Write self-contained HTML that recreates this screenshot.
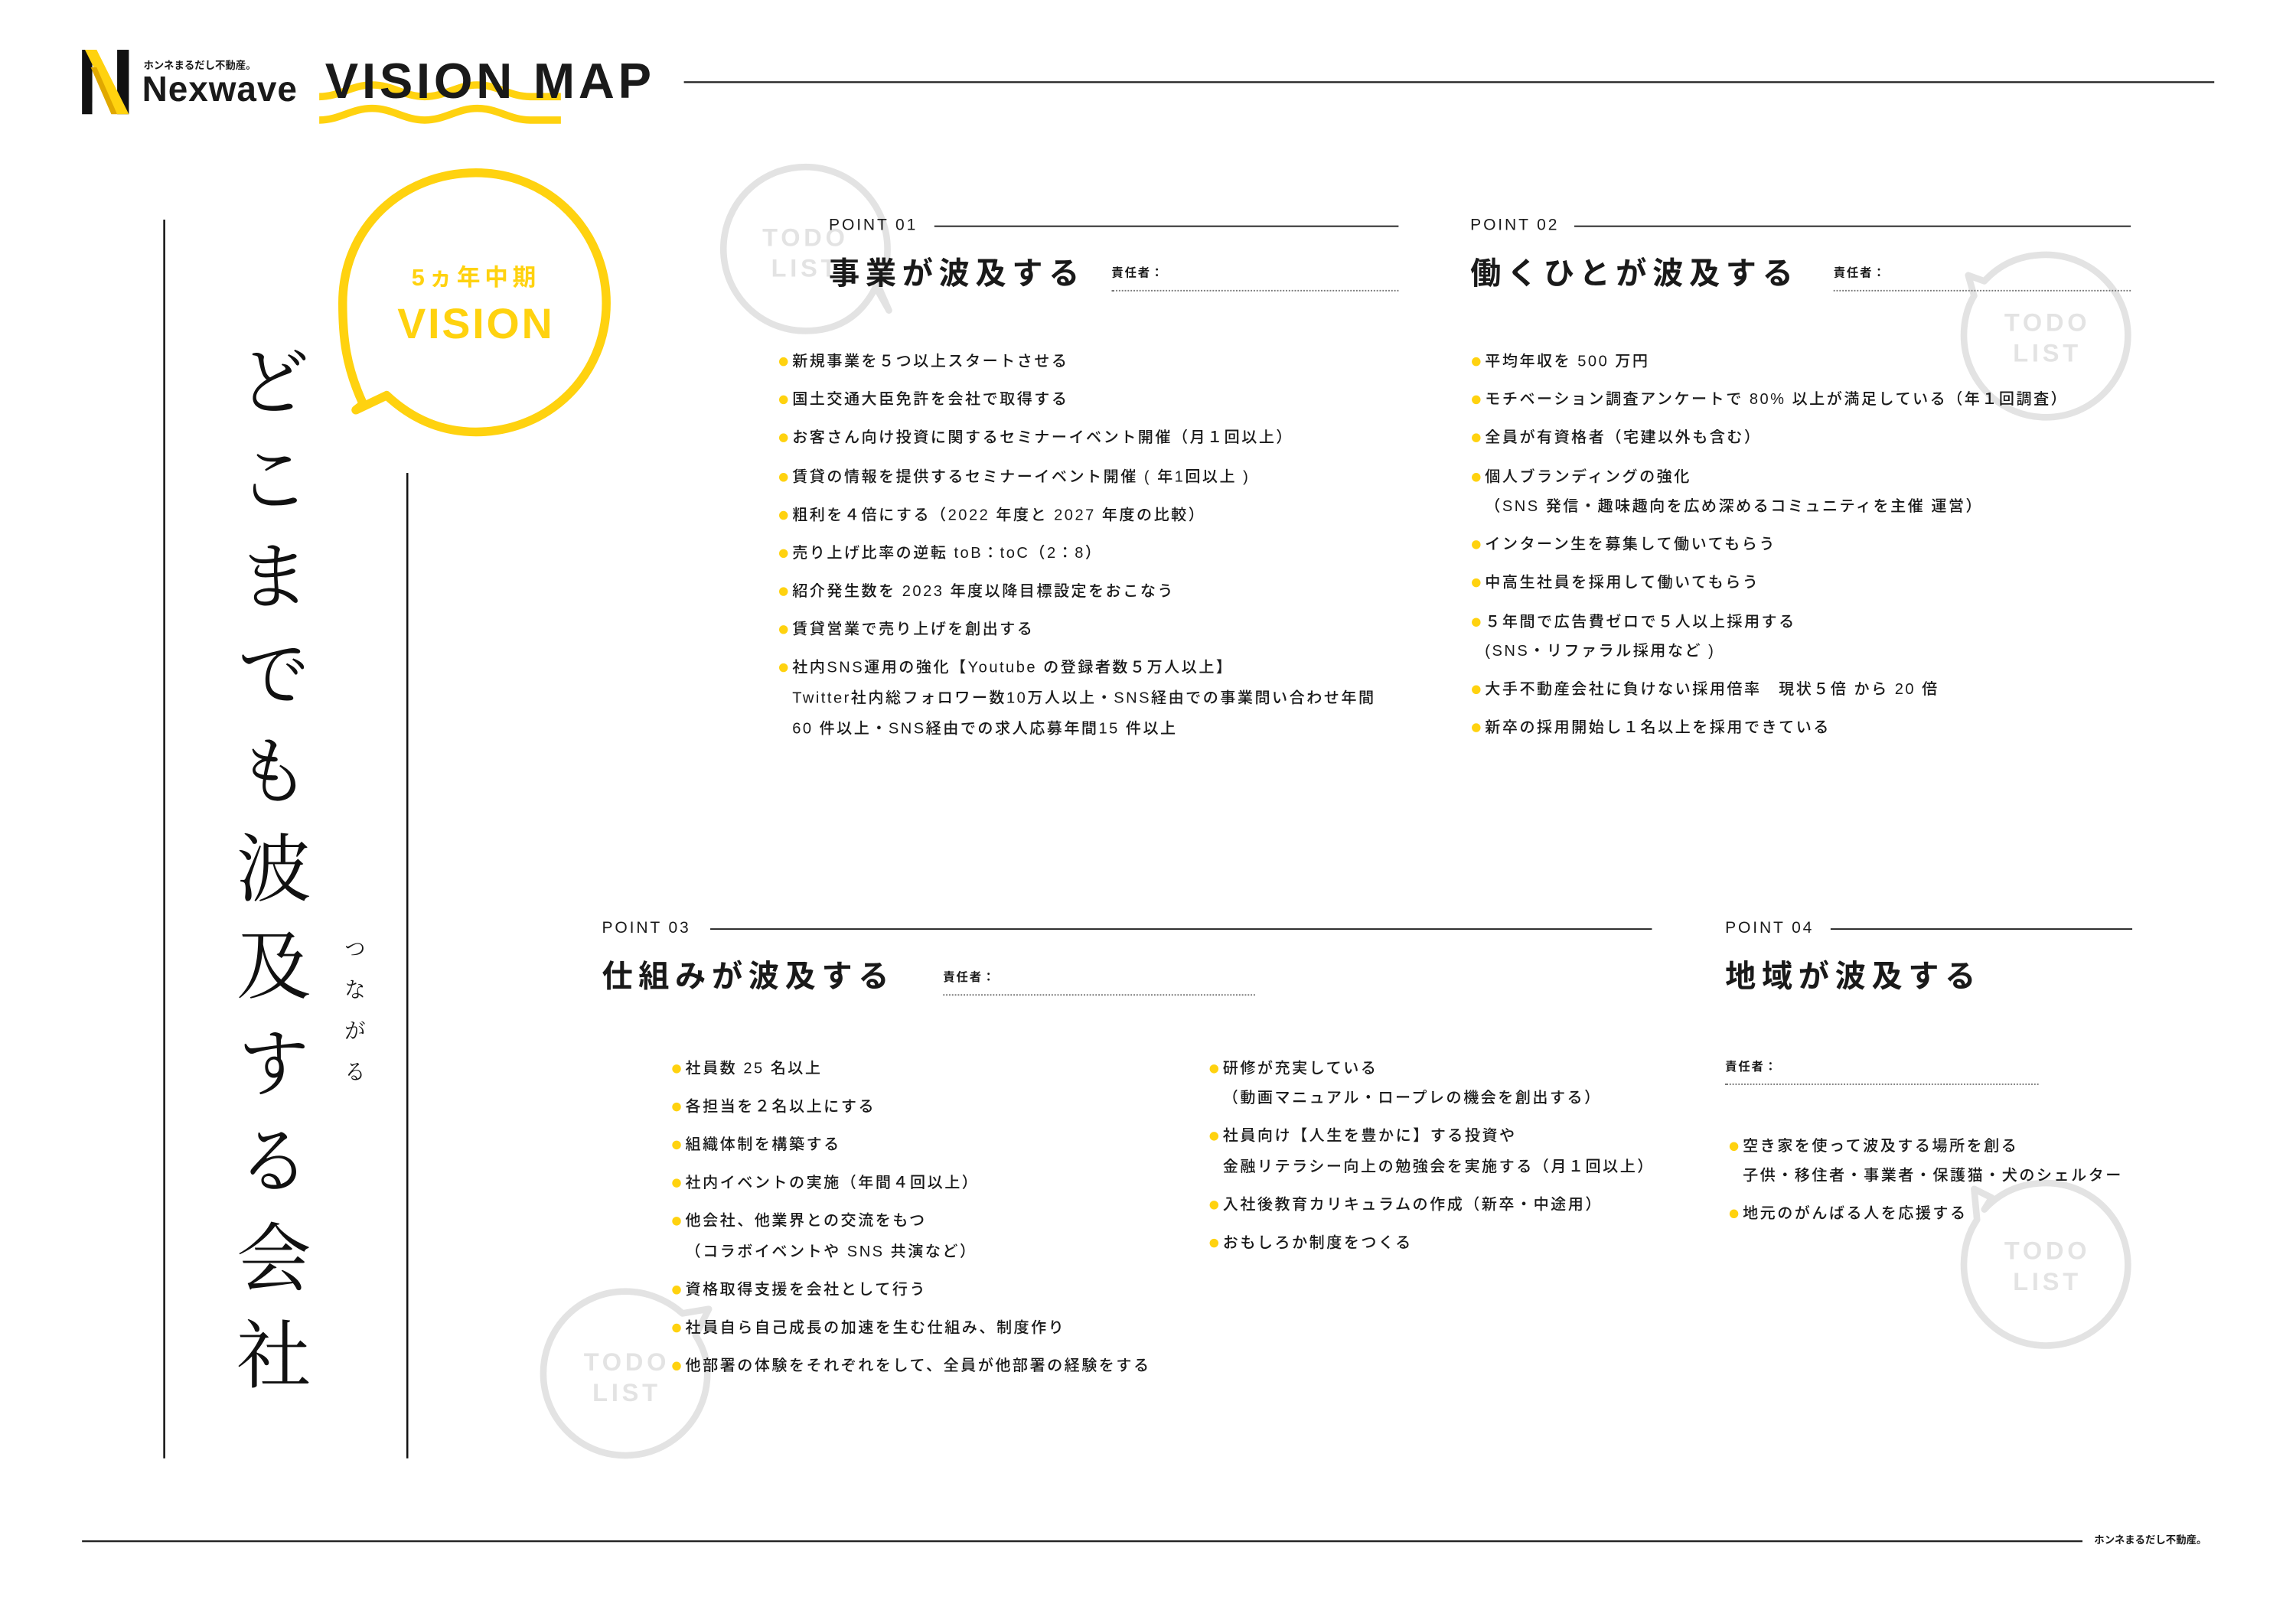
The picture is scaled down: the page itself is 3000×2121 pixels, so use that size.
<!DOCTYPE html>
<html><head><meta charset="utf-8"><style>
html,body{margin:0;padding:0;background:#fff;}
body{width:3000px;height:2121px;overflow:hidden;position:relative;}
#c{position:absolute;left:0;top:0;width:1560px;height:1103px;transform:scale(1.9135);transform-origin:0 0;font-family:"Liberation Sans","Noto Sans CJK JP",sans-serif;color:#1a1a1a;}
.a{position:absolute;white-space:nowrap;line-height:1;}
.lbl{font-size:11px;letter-spacing:1.5px;font-weight:500;}
.ttl{font-size:21px;font-weight:bold;letter-spacing:4px;}
.res{font-size:8px;font-weight:bold;letter-spacing:1px;}
.hl{position:absolute;height:1px;background:#222;}
.dl{position:absolute;border-top:1px dotted #777;height:0;}
.b{position:absolute;white-space:nowrap;font-size:10.5px;letter-spacing:1.3px;font-weight:500;line-height:1;}
.b.d::before{content:"";position:absolute;left:-9px;top:2px;width:6px;height:6px;border-radius:50%;background:#FFD20F;}
</style></head><body><div id="c">
<svg width="1560" height="1103" style="position:absolute;left:0;top:0">
 <rect x="56" y="34" width="7" height="44" fill="#111"/>
 <rect x="80" y="34" width="8" height="44" fill="#111"/>
 <polygon points="58,34 66,34 88,78 80,78" fill="#FFD20F"/>
 <polygon points="62,46 66,46 80,78 76,78" fill="#e0a800"/>
 <rect x="63" y="70" width="8" height="8" fill="#fff"/>
 <path d="M218 66 C232 66,240 58,254 58 S276 66,290 66 S312 58,326 58 S348 66,362 66 L383 66" stroke="#FFD20F" stroke-width="5" fill="none"/>
 <path d="M218 82 C232 82,240 74,254 74 S276 82,290 82 S312 74,326 74 S348 82,362 82 L383 82" stroke="#FFD20F" stroke-width="5" fill="none"/>
 <rect x="467" y="55.5" width="1045" height="1.2" fill="#222"/>
 <rect x="56" y="1052" width="1366" height="1.2" fill="#222"/>
 <rect x="111.5" y="150" width="1.3" height="846" fill="#111"/>
 <rect x="277.5" y="323" width="1.3" height="673" fill="#111"/>
 <path d="M248 276 C236 250,234 230,234 207 C234 155,275 118,325 118 C375 118,414 158,414 207 C414 256,375 295,325 295 C300 295,280 285,264 270 L243 280 Z" stroke="#FFD20F" stroke-width="6" fill="none" stroke-linejoin="round"/>
 <g stroke="#e3e3e3" stroke-width="4.5" fill="none" stroke-linejoin="round">
  <path d="M598 196 C588 216,572 226,550 226 C519 226,494 201,494 170 C494 139,519 114,550 114 C581 114,606 139,606 170 C606 180,604 188,600 196 L607 212 Z"/>
  <path d="M1355 192 C1366 180,1380 174,1397 174 C1428 174,1453 199,1453 229 C1453 260,1428 285,1397 285 C1366 285,1341 260,1341 229 C1341 220,1343 210,1348 202 L1344 188 Z"/>
  <path d="M475 912 C480 920,483 928,483 938 C483 969,458 994,427 994 C396 994,371 969,371 938 C371 907,396 882,427 882 C442 882,456 888,466 897 L484 894 Z"/>
  <path d="M1355 826 C1366 814,1380 808,1397 808 C1428 808,1453 833,1453 864 C1453 894,1428 919,1397 919 C1366 919,1341 894,1341 864 C1341 852,1344 842,1350 833 L1348 812 L1360 818 Z"/>
 </g>
 <g fill="#e3e3e3" font-family="Liberation Sans, sans-serif" font-weight="bold" font-size="17" letter-spacing="2.5" text-anchor="middle">
  <text x="550" y="168">TODO</text><text x="550" y="189">LIST</text>
  <text x="1398" y="226">TODO</text><text x="1398" y="247">LIST</text>
  <text x="428" y="936">TODO</text><text x="428" y="957">LIST</text>
  <text x="1398" y="860">TODO</text><text x="1398" y="881">LIST</text>
 </g>
</svg>
<div class="a" style="left:98px;top:42px;font-size:7px;font-weight:bold;">ホンネまるだし不動産。</div>
<div class="a" style="left:97px;top:50px;font-size:24px;font-weight:bold;letter-spacing:0.5px;">Nexwave</div>
<div class="a" style="left:222px;top:39px;font-size:34px;font-weight:bold;letter-spacing:2.5px;">VISION MAP</div>
<div class="a" style="left:1430px;top:1049px;font-size:7px;font-weight:bold;">ホンネまるだし不動産。</div>

<div class="a" style="left:325px;top:183px;transform:translateX(-50%);font-size:16px;font-weight:bold;color:#FFD20F;letter-spacing:3px;">5ヵ年中期</div>
<div class="a" style="left:325px;top:208px;transform:translateX(-50%);font-size:29px;font-weight:bold;color:#FFD20F;letter-spacing:1.5px;">VISION</div>

<div class="a" style="left:155px;top:234px;writing-mode:vertical-rl;font-family:'Liberation Serif','Noto Serif CJK SC',serif;font-size:51px;letter-spacing:15.5px;color:#111;">どこまでも波及する会社</div>
<div class="a" style="left:233px;top:640px;writing-mode:vertical-rl;font-family:'Liberation Serif','Noto Serif CJK SC',serif;font-size:15px;letter-spacing:13px;">つながる</div>

<div class="a lbl" style="left:566px;top:149px;">POINT 01</div>
<div class="hl" style="left:638px;top:154px;width:317px;"></div>
<div class="a ttl" style="left:566px;top:177px;">事業が波及する</div>
<div class="a res" style="left:759px;top:183px;">責任者：</div>
<div class="dl" style="left:759px;top:198px;width:196px;"></div>
<div class="b d" style="left:541px;top:242px;">新規事業を５つ以上スタートさせる</div>
<div class="b d" style="left:541px;top:268px;">国土交通大臣免許を会社で取得する</div>
<div class="b d" style="left:541px;top:294px;">お客さん向け投資に関するセミナーイベント開催（月１回以上）</div>
<div class="b d" style="left:541px;top:321px;">賃貸の情報を提供するセミナーイベント開催 ( 年1回以上 )</div>
<div class="b d" style="left:541px;top:347px;">粗利を４倍にする（2022 年度と 2027 年度の比較）</div>
<div class="b d" style="left:541px;top:373px;">売り上げ比率の逆転 toB：toC（2：8）</div>
<div class="b d" style="left:541px;top:399px;">紹介発生数を 2023 年度以降目標設定をおこなう</div>
<div class="b d" style="left:541px;top:425px;">賃貸営業で売り上げを創出する</div>
<div class="b d" style="left:541px;top:451px;">社内SNS運用の強化【Youtube の登録者数５万人以上】</div>
<div class="b" style="left:541px;top:472px;">Twitter社内総フォロワー数10万人以上・SNS経由での事業問い合わせ年間</div>
<div class="b" style="left:541px;top:493px;">60 件以上・SNS経由での求人応募年間15 件以上</div>

<div class="a lbl" style="left:1004px;top:149px;">POINT 02</div>
<div class="hl" style="left:1075px;top:154px;width:380px;"></div>
<div class="a ttl" style="left:1004px;top:177px;">働くひとが波及する</div>
<div class="a res" style="left:1252px;top:183px;">責任者：</div>
<div class="dl" style="left:1252px;top:198px;width:203px;"></div>
<div class="b d" style="left:1014px;top:242px;">平均年収を 500 万円</div>
<div class="b d" style="left:1014px;top:268px;">モチベーション調査アンケートで 80% 以上が満足している（年１回調査）</div>
<div class="b d" style="left:1014px;top:294px;">全員が有資格者（宅建以外も含む）</div>
<div class="b d" style="left:1014px;top:321px;">個人ブランディングの強化</div>
<div class="b" style="left:1014px;top:341px;">（SNS 発信・趣味趣向を広め深めるコミュニティを主催 運営）</div>
<div class="b d" style="left:1014px;top:367px;">インターン生を募集して働いてもらう</div>
<div class="b d" style="left:1014px;top:393px;">中高生社員を採用して働いてもらう</div>
<div class="b d" style="left:1014px;top:420px;">５年間で広告費ゼロで５人以上採用する</div>
<div class="b" style="left:1014px;top:440px;">(SNS・リファラル採用など )</div>
<div class="b d" style="left:1014px;top:466px;">大手不動産会社に負けない採用倍率　現状５倍 から 20 倍</div>
<div class="b d" style="left:1014px;top:492px;">新卒の採用開始し１名以上を採用できている</div>

<div class="a lbl" style="left:411px;top:629px;">POINT 03</div>
<div class="hl" style="left:485px;top:634px;width:643px;"></div>
<div class="a ttl" style="left:411px;top:657px;">仕組みが波及する</div>
<div class="a res" style="left:644px;top:664px;">責任者：</div>
<div class="dl" style="left:644px;top:679px;width:213px;"></div>
<div class="b d" style="left:468px;top:725px;">社員数 25 名以上</div>
<div class="b d" style="left:468px;top:751px;">各担当を２名以上にする</div>
<div class="b d" style="left:468px;top:777px;">組織体制を構築する</div>
<div class="b d" style="left:468px;top:803px;">社内イベントの実施（年間４回以上）</div>
<div class="b d" style="left:468px;top:829px;">他会社、他業界との交流をもつ</div>
<div class="b" style="left:468px;top:850px;">（コラボイベントや SNS 共演など）</div>
<div class="b d" style="left:468px;top:876px;">資格取得支援を会社として行う</div>
<div class="b d" style="left:468px;top:902px;">社員自ら自己成長の加速を生む仕組み、制度作り</div>
<div class="b d" style="left:468px;top:928px;">他部署の体験をそれぞれをして、全員が他部署の経験をする</div>
<div class="b d" style="left:835px;top:725px;">研修が充実している</div>
<div class="b" style="left:835px;top:745px;">（動画マニュアル・ロープレの機会を創出する）</div>
<div class="b d" style="left:835px;top:771px;">社員向け【人生を豊かに】する投資や</div>
<div class="b" style="left:835px;top:792px;">金融リテラシー向上の勉強会を実施する（月１回以上）</div>
<div class="b d" style="left:835px;top:818px;">入社後教育カリキュラムの作成（新卒・中途用）</div>
<div class="b d" style="left:835px;top:844px;">おもしろか制度をつくる</div>

<div class="a lbl" style="left:1178px;top:629px;">POINT 04</div>
<div class="hl" style="left:1250px;top:634px;width:206px;"></div>
<div class="a ttl" style="left:1178px;top:657px;">地域が波及する</div>
<div class="a res" style="left:1178px;top:725px;">責任者：</div>
<div class="dl" style="left:1178px;top:740px;width:214px;"></div>
<div class="b d" style="left:1190px;top:778px;">空き家を使って波及する場所を創る</div>
<div class="b" style="left:1190px;top:798px;">子供・移住者・事業者・保護猫・犬のシェルター</div>
<div class="b d" style="left:1190px;top:824px;">地元のがんばる人を応援する</div>
</div></body></html>
